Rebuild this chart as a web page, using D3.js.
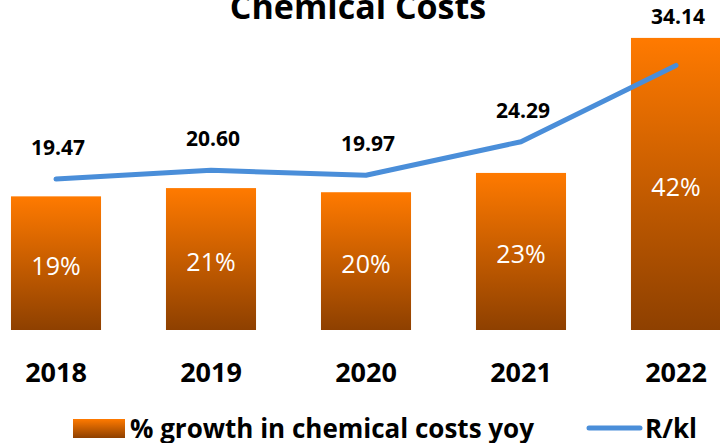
<!DOCTYPE html>
<html>
<head>
<meta charset="utf-8">
<script src="https://cdn.jsdelivr.net/npm/d3@7"></script>
<style>
  html, body { margin: 0; padding: 0; background: #fff; }
  svg { display: block; font-family: 'Open Sans', sans-serif; }
</style>
</head>
<body>
<svg id="chart"></svg>
<script>
const WIDTH  = 720;
const HEIGHT = 443;

const years      = ['2018', '2019', '2020', '2021', '2022'];
const growthPct  = [19.4, 20.6, 20.0, 22.8, 42.4];   // % growth in chemical costs yoy
const rPerKl     = [19.47, 20.60, 19.97, 24.29, 34.14];

const TITLE        = 'Chemical Costs';
const BAR_LABEL    = '% growth in chemical costs yoy';
const LINE_LABEL   = 'R/kl';

const BASELINE = 330;
const TOP      = 20;

const svg = d3.select('#chart')
  .attr('width', WIDTH)
  .attr('height', HEIGHT)
  .attr('viewBox', `0 0 ${WIDTH} ${HEIGHT}`);

// last bar runs off the right edge in the source
const x = d3.scaleBand()
  .domain(years)
  .range([-21.5, 753.5])
  .paddingInner(0.419)
  .paddingOuter(0.2095);

const yBar  = d3.scaleLinear().domain([0, 45]).range([BASELINE, TOP]);
const yLine = d3.scaleLinear().domain([0, 40]).range([BASELINE, TOP]);

// orange -> brown fill
const grad = svg.append('defs').append('linearGradient')
  .attr('id', 'barFill')
  .attr('x1', 0).attr('y1', 0).attr('x2', 0).attr('y2', 1);
grad.append('stop').attr('offset', '0%').attr('stop-color', '#ff7a00');
grad.append('stop').attr('offset', '100%').attr('stop-color', '#8e4000');

// title (top is cut off in the source)
svg.append('text')
  .attr('x', 358)
  .attr('y', 19)
  .attr('text-anchor', 'middle')
  .attr('font-size', 34)
  .attr('font-weight', 700)
  .attr('fill', '#000')
  .text(TITLE);

const data = years.map((year, i) => ({ year, pct: growthPct[i], rate: rPerKl[i] }));

// bars
svg.append('g').attr('class', 'bars')
  .selectAll('rect')
  .data(data)
  .enter().append('rect')
    .attr('x', d => x(d.year))
    .attr('y', d => yBar(d.pct))
    .attr('width', x.bandwidth())
    .attr('height', d => BASELINE - yBar(d.pct))
    .attr('fill', 'url(#barFill)');

svg.append('g').attr('class', 'bar-labels')
  .selectAll('text')
  .data(data)
  .enter().append('text')
    .attr('x', d => x(d.year) + x.bandwidth() / 2)
    .attr('y', d => (yBar(d.pct) + BASELINE) / 2 + 2)
    .attr('text-anchor', 'middle')
    .attr('dominant-baseline', 'central')
    .attr('font-size', 25)
    .attr('fill', '#fff')
    .text(d => `${Math.round(d.pct)}%`);

// R/kl line
const line = d3.line()
  .x(d => x(d.year) + x.bandwidth() / 2)
  .y(d => yLine(d.rate));

svg.append('path')
  .datum(data)
  .attr('d', line)
  .attr('fill', 'none')
  .attr('stroke', '#4a8ed9')
  .attr('stroke-width', 5)
  .attr('stroke-linecap', 'round')
  .attr('stroke-linejoin', 'round');

svg.append('g').attr('class', 'line-labels')
  .selectAll('text')
  .data(data)
  .enter().append('text')
    .attr('x', d => x(d.year) + x.bandwidth() / 2 + 2)
    .attr('y', d => Math.min(yLine(d.rate) - 24, yBar(d.pct) - 14))
    .attr('text-anchor', 'middle')
    .attr('font-size', 21)
    .attr('font-weight', 700)
    .attr('fill', '#000')
    .text(d => d.rate.toFixed(2));

// category axis (no line, just labels)
const xAxis = svg.append('g')
  .attr('transform', `translate(0,${BASELINE})`)
  .call(d3.axisBottom(x).tickSize(0).tickPadding(0));
xAxis.select('.domain').remove();
xAxis.selectAll('text')
  .attr('y', 52)
  .attr('dy', null)
  .attr('font-family', "'Open Sans', sans-serif")
  .attr('font-size', 27)
  .attr('font-weight', 700)
  .attr('fill', '#000');

// legend
const legend = svg.append('g').attr('class', 'legend');
legend.append('rect')
  .attr('x', 73).attr('y', 419)
  .attr('width', 52).attr('height', 19)
  .attr('fill', 'url(#barFill)');
legend.append('text')
  .attr('x', 130).attr('y', 438)
  .attr('font-size', 26)
  .attr('font-weight', 700)
  .attr('fill', '#000')
  .text(BAR_LABEL);
legend.append('line')
  .attr('x1', 589).attr('x2', 640)
  .attr('y1', 428).attr('y2', 428)
  .attr('stroke', '#4a8ed9')
  .attr('stroke-width', 5)
  .attr('stroke-linecap', 'round');
legend.append('text')
  .attr('x', 645).attr('y', 438)
  .attr('font-size', 26)
  .attr('font-weight', 700)
  .attr('fill', '#000')
  .text(LINE_LABEL);
</script>
</body>
</html>
